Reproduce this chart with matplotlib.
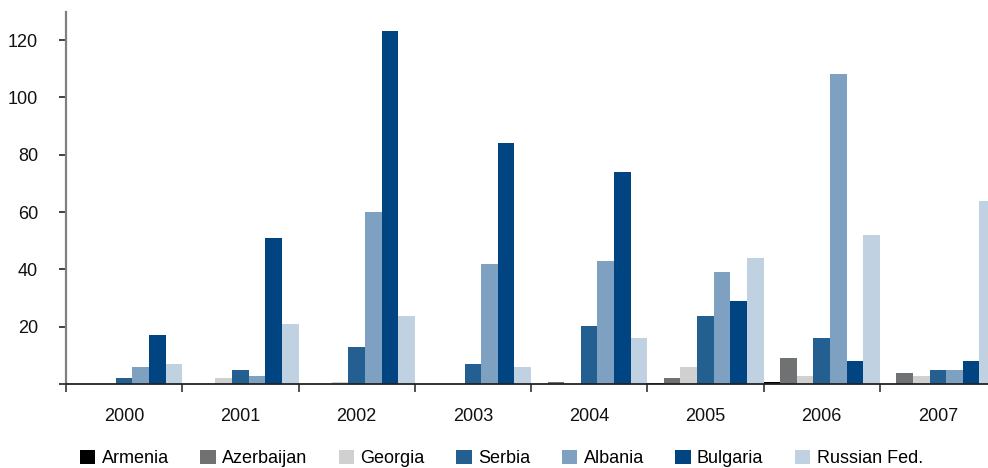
import matplotlib
matplotlib.use("Agg")
import matplotlib.pyplot as plt
from matplotlib.patches import Patch
import numpy as np

plt.rcParams['font.family'] = ['Liberation Sans', 'DejaVu Sans']

years = ["2000", "2001", "2002", "2003", "2004", "2005", "2006", "2007"]
countries = ["Armenia", "Azerbaijan", "Georgia", "Serbia", "Albania", "Bulgaria", "Russian Fed."]
colors = ["#000000", "#707173", "#D0D0D0", "#245F91", "#7FA1C1", "#004481", "#C0D2E1"]

armenia    = [0, 0, 0, 0, 0, 0.5, 0.7, 0]
azerbaijan = [0, 0, 0, 0, 0.7, 2.1, 9.1, 3.8]
georgia    = [0, 2.1, 0.7, 0, 0, 5.9, 2.8, 2.8]
serbia     = [2.0, 4.9, 12.9, 7.0, 20.2, 23.7, 16.0, 4.9]
albania    = [5.9, 2.8, 60.0, 41.9, 42.9, 39.0, 108.2, 4.9]
bulgaria   = [17.1, 50.9, 123.2, 84.0, 74.0, 29.0, 8.0, 8.0]
russia     = [7.0, 20.9, 23.7, 5.9, 16.0, 44.0, 52.0, 64.0]

series = [armenia, azerbaijan, georgia, serbia, albania, bulgaria, russia]

W, H = 988, 468
fig = plt.figure(figsize=(W / 100, H / 100), dpi=100)
ax = fig.add_axes([66 / W, (H - 384) / H, 930 / W, 372.5 / H])

n = len(countries)
bw = 1.0 / n
x0 = np.arange(len(years))
for j, (name, vals, c) in enumerate(zip(countries, series, colors)):
    ax.bar(x0 + (j + 0.5) * bw, vals, width=bw, color=c, linewidth=0, label=name)

ax.set_xlim(0, len(years))
ax.set_ylim(0, 130)

for s in ("top", "right"):
    ax.spines[s].set_visible(False)
ax.spines["left"].set_color("#808080")
ax.spines["left"].set_linewidth(1.6)
ax.spines["bottom"].set_color("#222222")
ax.spines["bottom"].set_linewidth(1.3)
ax.spines["bottom"].set_zorder(5)

ax.set_yticks(np.arange(0, 121, 20))
ax.set_yticklabels([""] + [str(v) for v in range(20, 121, 20)])
ax.tick_params(axis="y", direction="out", length=5, width=1.2, color="#222222",
               labelsize=13, pad=15, labelcolor="#111111")

ax.set_xticks(np.arange(0, len(years) + 1))
ax.set_xticklabels([])
ax.set_xticks(x0 + 0.5, minor=True)
ax.set_xticklabels(years, minor=True)
ax.tick_params(axis="x", which="major", direction="out", length=6, width=1.2, color="#333333")
ax.tick_params(axis="x", which="minor", length=0, labelsize=13, pad=17, labelcolor="#111111")

handles = [Patch(facecolor=c, edgecolor="none", label=name) for name, c in zip(countries, colors)]
fig.legend(handles=handles, ncol=n, frameon=False, fontsize=13,
           loc="lower left", bbox_to_anchor=(80 / W, 1 / H),
           handlelength=0.85, handleheight=0.85, handletextpad=0.35,
           columnspacing=1.75, borderpad=0, borderaxespad=0)

fig.savefig("out.png", dpi=100)
